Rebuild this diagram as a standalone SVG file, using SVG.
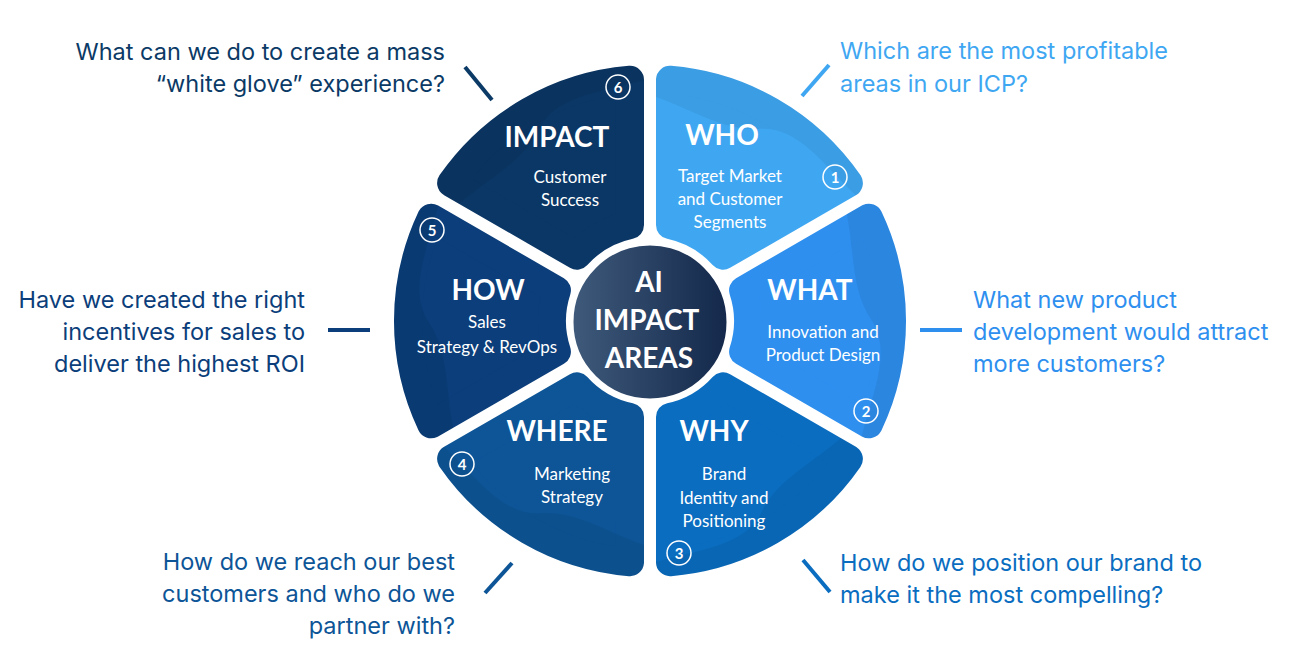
<svg xmlns="http://www.w3.org/2000/svg" xmlns:xlink="http://www.w3.org/1999/xlink" width="1311" height="648" viewBox="0 0 1311 648">
  <style>
    .seg { stroke-width: 28; stroke-linejoin: round; }
    .wave { fill: #000; fill-opacity: 0.06; }
    .title { font-family: Lato, "Open Sans", sans-serif; font-weight: 700; font-size: 28px; fill: #fff; text-anchor: middle; }
    .sub { font-family: Lato, "Open Sans", sans-serif; font-size: 17px; fill: #fff; text-anchor: middle; }
    .badge circle { fill: none; stroke: #fff; stroke-width: 1.5; }
    .badge text { font-family: Lato, "Open Sans", sans-serif; font-weight: 700; font-size: 15px; fill: #fff; text-anchor: middle; }
    .q { font-family: Inter, "Noto Sans", sans-serif; font-size: 23.5px; }
    .conn line { stroke-width: 4; fill: none; }
    .center-text { font-family: Lato, "Open Sans", sans-serif; font-weight: 700; font-size: 28px; fill: #fff; text-anchor: middle; }
  </style>
  <defs>
    <path id="seg" d="M 218.87 103.27 A 242 242 0 0 0 218.87 -103.27 L 93.08 -30.65 A 98 98 0 0 1 93.08 30.65 Z"/>
    <path id="wavePath" d="M 170 -170 C 215 -110, 190 -45, 222 0 C 250 45, 200 105, 205 175 L 330 175 L 330 -170 Z"/>
    <mask id="segMask" maskUnits="userSpaceOnUse" x="-300" y="-300" width="600" height="600">
      <use href="#seg" fill="#fff" stroke="#fff" stroke-width="28" stroke-linejoin="round"/>
    </mask>
    <linearGradient id="centerGrad" x1="0" y1="0" x2="1" y2="0">
      <stop offset="0" stop-color="#3f5a7b"/>
      <stop offset="1" stop-color="#13284a"/>
    </linearGradient>
  </defs>

  <rect width="1311" height="648" fill="#fff"/>

  <g id="who">
    <g transform="translate(650,321) rotate(-60)">
      <use href="#seg" class="seg" fill="#3fa7f2" stroke="#3fa7f2"/>
      <use href="#wavePath" class="wave" mask="url(#segMask)"/>
    </g>
    <text class="title" x="722" y="145">WHO</text>
    <text class="sub" x="730" y="182">Target Market</text>
    <text class="sub" x="730" y="205">and Customer</text>
    <text class="sub" x="730" y="228">Segments</text>
    <g class="badge"><circle cx="835" cy="177" r="12"/><text x="835" y="182.5">1</text></g>
  </g>

  <g id="what">
    <g transform="translate(650,321)">
      <use href="#seg" class="seg" fill="#2e8fef" stroke="#2e8fef"/>
      <use href="#wavePath" class="wave" mask="url(#segMask)"/>
    </g>
    <text class="title" x="810" y="300">WHAT</text>
    <text class="sub" x="823" y="338">Innovation and</text>
    <text class="sub" x="823" y="361">Product Design</text>
    <g class="badge"><circle cx="866" cy="411" r="12"/><text x="866" y="416.5">2</text></g>
  </g>

  <g id="why">
    <g transform="translate(650,321) rotate(60)">
      <use href="#seg" class="seg" fill="#0a6dc0" stroke="#0a6dc0"/>
      <use href="#wavePath" class="wave" mask="url(#segMask)"/>
    </g>
    <text class="title" x="714" y="441">WHY</text>
    <text class="sub" x="724" y="480">Brand</text>
    <text class="sub" x="724" y="504">Identity and</text>
    <text class="sub" x="724" y="527">Positioning</text>
    <g class="badge"><circle cx="679" cy="553" r="12"/><text x="679" y="558.5">3</text></g>
  </g>

  <g id="where">
    <g transform="translate(650,321) rotate(120)">
      <use href="#seg" class="seg" fill="#0d5597" stroke="#0d5597"/>
      <use href="#wavePath" class="wave" mask="url(#segMask)"/>
    </g>
    <text class="title" x="557" y="441">WHERE</text>
    <text class="sub" x="572" y="480">Marketing</text>
    <text class="sub" x="572" y="503">Strategy</text>
    <g class="badge"><circle cx="462" cy="464" r="12"/><text x="462" y="469.5">4</text></g>
  </g>

  <g id="how">
    <g transform="translate(650,321) rotate(180)">
      <use href="#seg" class="seg" fill="#0b3e7a" stroke="#0b3e7a"/>
      <use href="#wavePath" class="wave" mask="url(#segMask)"/>
    </g>
    <text class="title" x="488" y="300">HOW</text>
    <text class="sub" x="487" y="328">Sales</text>
    <text class="sub" x="487" y="353">Strategy &amp; RevOps</text>
    <g class="badge"><circle cx="432" cy="230" r="12"/><text x="432" y="235.5">5</text></g>
  </g>

  <g id="impact">
    <g transform="translate(650,321) rotate(-120)">
      <use href="#seg" class="seg" fill="#0b3766" stroke="#0b3766"/>
      <use href="#wavePath" class="wave" mask="url(#segMask)"/>
    </g>
    <text class="title" x="557" y="147">IMPACT</text>
    <text class="sub" x="570" y="183">Customer</text>
    <text class="sub" x="570" y="206">Success</text>
    <g class="badge"><circle cx="618" cy="87" r="12"/><text x="618" y="92.5">6</text></g>
  </g>

  <g id="center">
    <circle cx="650" cy="322" r="78" fill="url(#centerGrad)" stroke="#fff" stroke-width="3"/>
    <text class="center-text" x="649" y="292">AI</text>
    <text class="center-text" x="647" y="330">IMPACT</text>
    <text class="center-text" x="649" y="368">AREAS</text>
  </g>

  <g id="questions">
    <g id="q-impact" class="q" fill="#0b3a66" text-anchor="end">
      <text x="445" y="60">What can we do to create a mass</text>
      <text x="445" y="92">“white glove” experience?</text>
    </g>
    <g id="q-who" class="q" fill="#3fa7f2">
      <text x="840" y="59">Which are the most profitable</text>
      <text x="840" y="92">areas in our ICP?</text>
    </g>
    <g id="q-how" class="q" fill="#0b3e7a" text-anchor="end">
      <text x="305" y="308">Have we created the right</text>
      <text x="305" y="340">incentives for sales to</text>
      <text x="305" y="372">deliver the highest ROI</text>
    </g>
    <g id="q-what" class="q" fill="#2e8fef">
      <text x="973" y="308">What new product</text>
      <text x="973" y="340">development would attract</text>
      <text x="973" y="372">more customers?</text>
    </g>
    <g id="q-where" class="q" fill="#0d5597" text-anchor="end">
      <text x="455" y="570">How do we reach our best</text>
      <text x="455" y="602">customers and who do we</text>
      <text x="455" y="634">partner with?</text>
    </g>
    <g id="q-why" class="q" fill="#0a6dc0">
      <text x="840" y="571">How do we position our brand to</text>
      <text x="840" y="603">make it the most compelling?</text>
    </g>
  </g>

  <g id="connectors" class="conn">
    <line x1="465" y1="67" x2="492" y2="100" stroke="#0b3a66"/>
    <line x1="829" y1="65" x2="802" y2="96" stroke="#3fa7f2"/>
    <line x1="328" y1="330" x2="370" y2="330" stroke="#0b3e7a"/>
    <line x1="920" y1="330" x2="962" y2="330" stroke="#2e8fef"/>
    <line x1="512" y1="563" x2="485" y2="593" stroke="#0d5597"/>
    <line x1="803" y1="560" x2="830" y2="592" stroke="#0a6dc0"/>
  </g>
</svg>
